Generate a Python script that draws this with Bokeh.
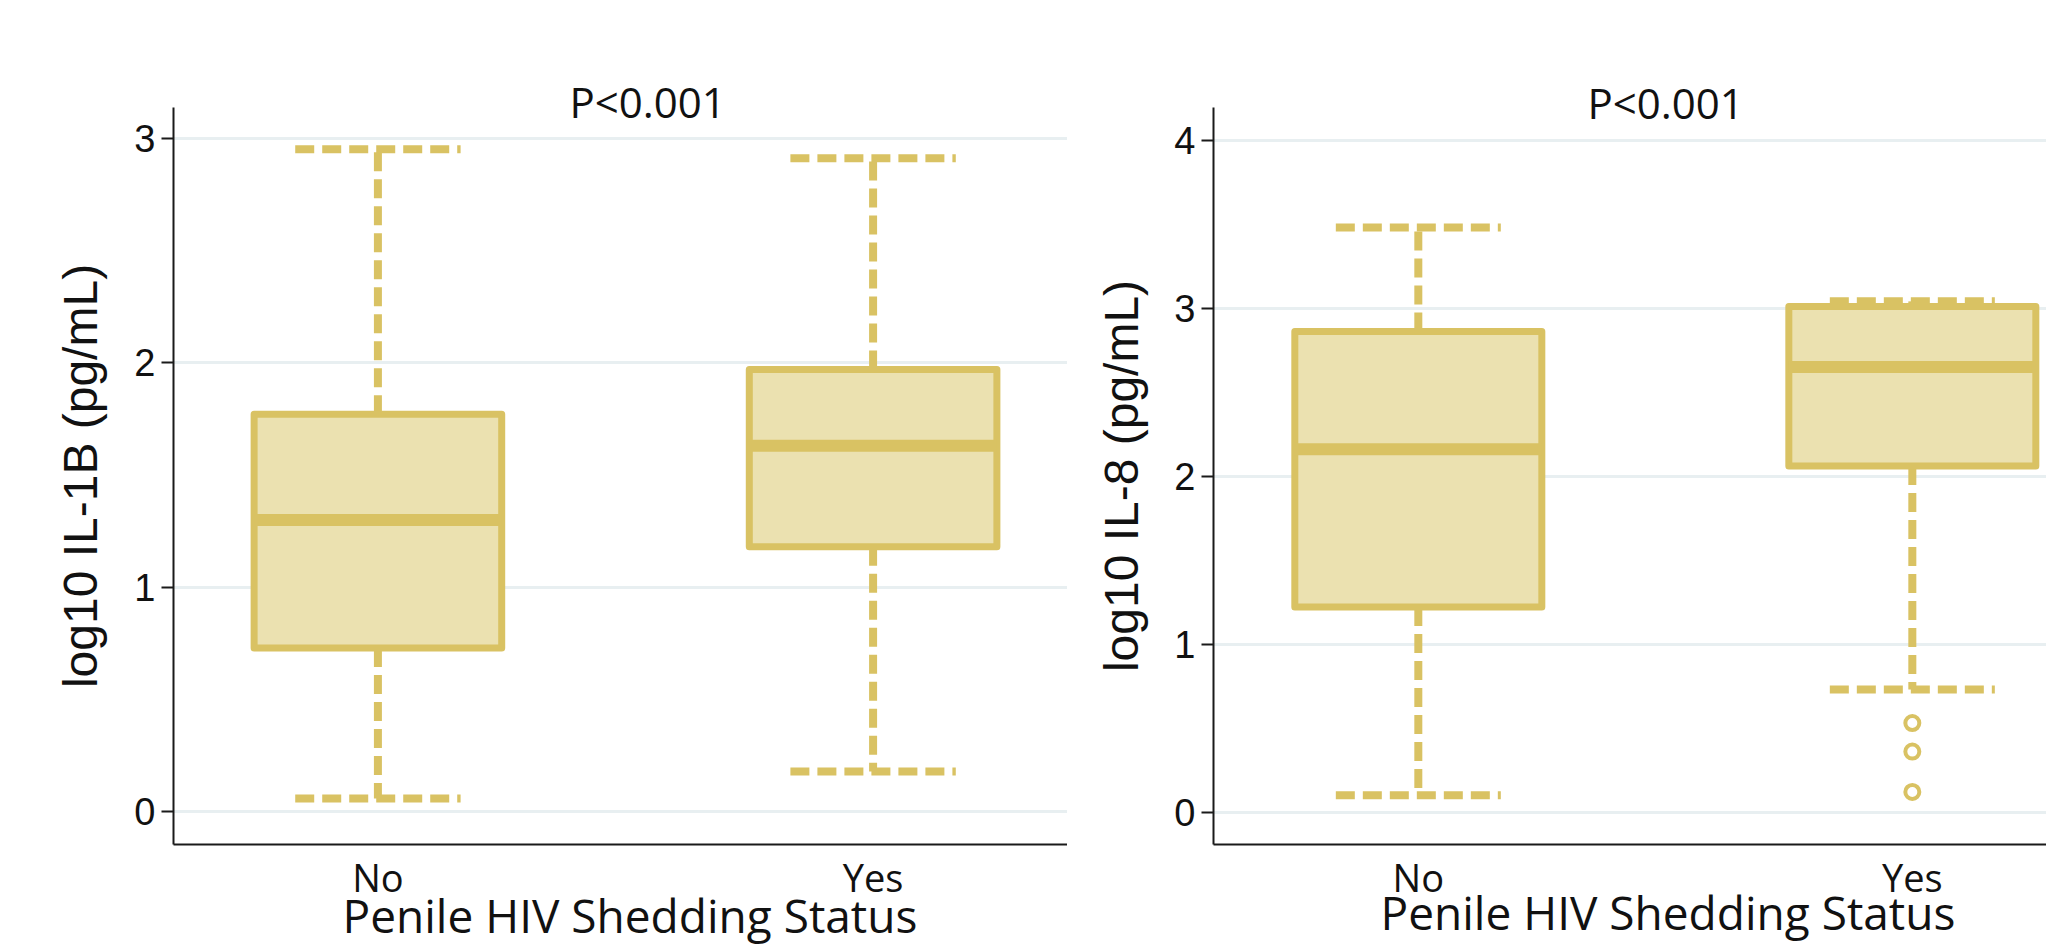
from bokeh.plotting import figure
from bokeh.models import FixedTicker, Range1d, Title
from bokeh.layouts import row
from bokeh.embed import file_html
from bokeh.resources import INLINE

# ---------------- data ----------------
categories = ["No", "Yes"]

il1b_lower = [0.06, 0.18]
il1b_q1 = [0.73, 1.18]
il1b_median = [1.30, 1.63]
il1b_q3 = [1.77, 1.97]
il1b_upper = [2.95, 2.91]
il1b_outliers = [[], []]

il8_lower = [0.10, 0.73]
il8_q1 = [1.22, 2.06]
il8_median = [2.16, 2.65]
il8_q3 = [2.86, 3.01]
il8_upper = [3.48, 3.04]
il8_outliers = [[], [0.53, 0.36, 0.12]]

il1b_ticks = [0, 1, 2, 3]
il8_ticks = [0, 1, 2, 3, 4]

p_value_text = "P<0.001"
x_title = "Penile HIV Shedding Status"
il1b_title = "log10 IL-1B (pg/mL)"
il8_title = "log10 IL-8 (pg/mL)"

# ---------------- style ----------------
BORDER = "#d9c263"
FILL = "#ebe1b0"
GRID = "#e8eff1"
AXIS = "#1a1a1a"
TEXT = "#111111"
SANS = "Open Sans"
ARIAL = "Liberation Sans"
BOX_W = 0.5
CAP_HALF = 0.167
DASH = "19 8"


def panel(lower, q1, med, q3, upper, outliers, ticks, ylabel,
          width, height, b_left, b_top, b_bottom, xr, yr,
          p_offset, p_standoff, t_offset, t_standoff, ylabel_standoff):
    xs = [i + 1 for i in range(len(categories))]
    p = figure(width=width, height=height,
               x_range=Range1d(*xr), y_range=Range1d(*yr),
               output_backend="svg", toolbar_location=None,
               min_border_left=b_left, min_border_right=0,
               min_border_top=b_top, min_border_bottom=b_bottom)
    p.outline_line_color = None
    p.background_fill_color = "white"
    p.border_fill_color = "white"

    p.xgrid.grid_line_color = None
    p.ygrid.grid_line_color = GRID
    p.ygrid.grid_line_width = 3
    p.ygrid.ticker = FixedTicker(ticks=ticks)

    # y axis
    p.yaxis.ticker = FixedTicker(ticks=ticks)
    p.yaxis.axis_line_color = AXIS
    p.yaxis.axis_line_width = 2
    p.yaxis.major_tick_line_color = AXIS
    p.yaxis.major_tick_line_width = 2
    p.yaxis.major_tick_out = 12
    p.yaxis.major_tick_in = 0
    p.yaxis.minor_tick_line_color = None
    p.yaxis.major_label_text_font = ARIAL
    p.yaxis.major_label_text_font_size = "38px"
    p.yaxis.major_label_text_color = TEXT
    p.yaxis.major_label_standoff = 6
    p.yaxis.axis_label = ylabel
    p.yaxis.axis_label_text_font = ARIAL
    p.yaxis.axis_label_text_font_size = "48px"
    p.yaxis.axis_label_text_font_style = "normal"
    p.yaxis.axis_label_text_color = TEXT
    p.yaxis.axis_label_standoff = ylabel_standoff

    # x axis
    p.xaxis.ticker = FixedTicker(ticks=xs)
    p.xaxis.major_label_overrides = {x: c for x, c in zip(xs, categories)}
    p.xaxis.axis_line_color = AXIS
    p.xaxis.axis_line_width = 2
    p.xaxis.major_tick_line_color = None
    p.xaxis.major_tick_out = 0
    p.xaxis.major_tick_in = 0
    p.xaxis.minor_tick_line_color = None
    p.xaxis.major_label_text_font = SANS
    p.xaxis.major_label_text_font_size = "38px"
    p.xaxis.major_label_text_color = TEXT
    p.xaxis.major_label_standoff = 6

    # whiskers (from box edge outward)
    p.segment(x0=xs, y0=q3, x1=xs, y1=upper, line_color=BORDER,
              line_width=8, line_dash=DASH, line_cap="butt")
    p.segment(x0=xs, y0=q1, x1=xs, y1=lower, line_color=BORDER,
              line_width=8, line_dash=DASH, line_cap="butt")
    # caps
    cap_l = [x - CAP_HALF for x in xs]
    cap_r = [x + CAP_HALF for x in xs]
    p.segment(x0=cap_l, y0=upper, x1=cap_r, y1=upper, line_color=BORDER,
              line_width=8, line_dash=DASH, line_cap="butt")
    p.segment(x0=cap_l, y0=lower, x1=cap_r, y1=lower, line_color=BORDER,
              line_width=8, line_dash=DASH, line_cap="butt")
    # boxes
    p.vbar(x=xs, width=BOX_W, bottom=q1, top=q3, fill_color=FILL,
           line_color=BORDER, line_width=7, line_join="round")
    # medians
    p.segment(x0=[x - BOX_W / 2 for x in xs], y0=med,
              x1=[x + BOX_W / 2 for x in xs], y1=med,
              line_color=BORDER, line_width=12, line_cap="butt")
    # outliers
    ox, oy = [], []
    for x, vals in zip(xs, outliers):
        for v in vals:
            ox.append(x)
            oy.append(v)
    if ox:
        p.scatter(x=ox, y=oy, size=14, marker="circle", fill_color=None,
                  line_color=BORDER, line_width=4)

    p.add_layout(Title(text=p_value_text, align="left", offset=p_offset,
                       standoff=p_standoff, vertical_align="bottom",
                       text_font=SANS, text_font_size="42px",
                       text_font_style="normal", text_color=TEXT), "above")
    p.add_layout(Title(text=x_title, align="left", offset=t_offset,
                       standoff=t_standoff, vertical_align="top",
                       text_font=SANS, text_font_size="46px",
                       text_font_style="normal", text_color=TEXT), "below")
    return p


p1 = panel(il1b_lower, il1b_q1, il1b_median, il1b_q3, il1b_upper, il1b_outliers,
           il1b_ticks, il1b_title,
           width=1067, height=947, b_left=173, b_top=105, b_bottom=103,
           xr=(0.5872, 2.3926), yr=(-0.145, 3.136),
           p_offset=396, p_standoff=-45, t_offset=169, t_standoff=-44,
           ylabel_standoff=24)

p2 = panel(il8_lower, il8_q1, il8_median, il8_q3, il8_upper, il8_outliers,
           il8_ticks, il8_title,
           width=979, height=947, b_left=146, b_top=107, b_bottom=100,
           xr=(0.5854, 2.2716), yr=(-0.193, 4.194),
           p_offset=374, p_standoff=-46, t_offset=167, t_standoff=-50,
           ylabel_standoff=23)

layout = row(p1, p2)
open("out.html", "w").write(file_html(layout, INLINE))
